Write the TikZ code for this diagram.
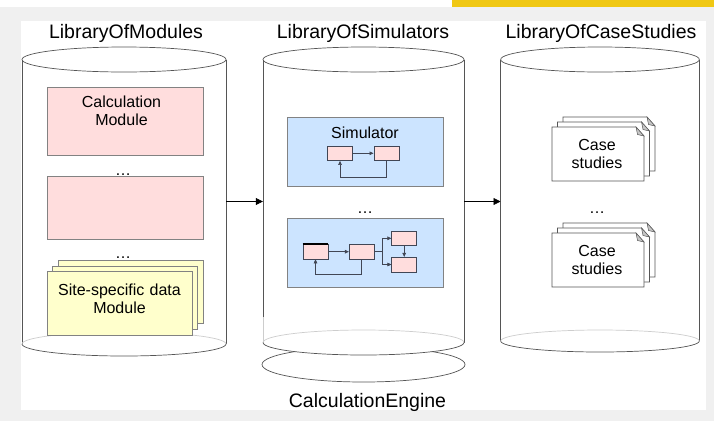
\documentclass[tikz,border=0pt]{standalone}
\usepackage{fontspec}
\setmainfont{Liberation Sans}
\usetikzlibrary{arrows.meta}
\definecolor{bggray}{RGB}{240,240,240}
\definecolor{topyellow}{RGB}{240,200,20}
\definecolor{pinkf}{RGB}{255,221,221}
\definecolor{bluef}{RGB}{204,228,255}
\definecolor{yellf}{RGB}{255,255,204}
\definecolor{edge}{RGB}{85,85,85}
\definecolor{lightedge}{RGB}{205,205,205}
\definecolor{boxedge}{RGB}{130,130,130}
\definecolor{smalledge}{RGB}{65,70,85}
\begin{document}
\begin{tikzpicture}[x=1pt,y=-1pt,
  title/.style={font=\fontsize{19.5}{23}\selectfont, anchor=base, inner sep=0pt},
  txt/.style={font=\fontsize{16}{18.8}\selectfont, anchor=base, inner sep=0pt, text width=150pt, align=center},
  cylbox/.style={minimum width=#1, minimum height=284pt, inner sep=0pt, draw=none},
  cyledge/.style={draw=edge, line width=0.7pt},
  modbox/.style={draw=boxedge, fill=pinkf, line width=0.6pt, minimum width=156pt, inner sep=0pt},
  sitebox/.style={draw=boxedge, fill=yellf, line width=0.6pt, minimum width=145pt, minimum height=63.5pt, inner sep=0pt},
  simbox/.style={draw=boxedge, fill=bluef, line width=0.6pt, minimum width=156pt, minimum height=69pt, inner sep=0pt},
  sbox/.style={draw=smalledge, fill=pinkf, line width=0.6pt, minimum width=25pt, minimum height=14.6pt, inner sep=0pt},
  bigarr/.style={draw=black, line width=0.6pt, -{Triangle[length=7pt,width=7pt]}},
  sarr/.style={draw=smalledge, line width=0.6pt, -{Triangle[length=4pt,width=3.6pt]}},
  sline/.style={draw=smalledge, line width=0.6pt},
  docpage/.pic={
    \draw[draw=edge, fill=white, line width=0.6pt] (0,0) -- (84,0) -- (92,9) -- (92,54) -- (0,54) -- cycle;
    \draw[draw=edge, fill=gray!45, line width=0.5pt] (84,0) -- (85.5,7.5) -- (92,9) -- cycle;
  }
]
\useasboundingbox (0,0) rectangle (714,421);
% background
\fill[white] (0,0) rectangle (714,421);
\fill[bggray] (0,7) rectangle (714,421);
\fill[white] (21,21) rectangle (706,410);
\path[fill=topyellow] (452,0) rectangle (714,7);

% titles
\node[title] (tlom) at (126,38) {LibraryOfModules};
\node[title] (tlos) at (363,38) {LibraryOfSimulators};
\node[title] (tloc) at (601,38) {LibraryOfCaseStudies};
\node[title] (tce) at (367.5,407) {CalculationEngine};

% ---------- cylinder 1 ----------
\fill[white] (22,59.5) -- (22,344) arc[start angle=180, end angle=0, x radius=102, y radius=12] -- (226,59.5) -- cycle;
\draw[cyledge] (22,59.5) -- (22,344);
\draw[cyledge] (226,59.5) -- (226,344);
\draw[draw=lightedge, line width=0.7pt] (22,344) arc[start angle=180, end angle=360, x radius=102, y radius=12];
\draw[cyledge] (22,344) arc[start angle=180, end angle=0, x radius=102, y radius=12];
\draw[cyledge] (124,59.5) ellipse [x radius=102, y radius=12.5];
\node[cylbox=204pt] (lom) at (124,201.5) {};

% ---------- cylinder 2 (with engine disc) ----------
\draw[cyledge] (363.5,364.5) ellipse [x radius=101.5, y radius=17.5];
\fill[white] (263,59.5) -- (263,342.5) arc[start angle=180, end angle=0, x radius=100.5, y radius=12.5] -- (464,59.5) -- cycle;
\draw[cyledge] (263,59.5) -- (263,317);
\draw[draw=lightedge, line width=0.7pt] (263,317) -- (263,342.5);
\draw[cyledge] (464,59.5) -- (464,342.5);
\draw[draw=lightedge, line width=0.7pt] (263,342.5) arc[start angle=180, end angle=360, x radius=100.5, y radius=12.5];
\draw[cyledge] (263,342.5) arc[start angle=180, end angle=0, x radius=100.5, y radius=12.5];
\draw[cyledge] (363.5,59.5) ellipse [x radius=100.5, y radius=12.5];
\node[cylbox=201pt] (los) at (363.5,201.5) {};

% ---------- cylinder 3 ----------
\fill[white] (500.7,59.5) -- (500.7,341) arc[start angle=180, end angle=0, x radius=99.3, y radius=11] -- (699.3,59.5) -- cycle;
\draw[cyledge] (500.7,59.5) -- (500.7,341);
\draw[cyledge] (699.3,59.5) -- (699.3,341);
\draw[draw=lightedge, line width=0.7pt] (500.7,341) arc[start angle=180, end angle=360, x radius=99.3, y radius=11];
\draw[cyledge] (500.7,341) arc[start angle=180, end angle=0, x radius=99.3, y radius=11];
\draw[cyledge] (600,59.5) ellipse [x radius=99.3, y radius=12.5];
\node[cylbox=198.6pt] (loc) at (600,201.5) {};

% arrows between libraries
\draw[bigarr] (lom.east) -- (los.west);
\draw[bigarr] (los.east) -- (loc.west);

% ---------- modules ----------
\node[modbox, minimum height=68.3pt] (calc) at (125,121) {};
\node[txt] (calctxt) at (121.5,107) {Calculation\\Module};
\node[txt] (dots1) at (123,175) {\ldots};
\node[modbox, minimum height=63.3pt] (mod2) at (125,207.6) {};
\node[txt] (dots2) at (123,258.5) {\ldots};
\node[sitebox] (site3) at (130.5,292) {};
\node[sitebox] (site2) at (125,298) {};
\node[sitebox] (site1) at (119.5,303.5) {};
\node[txt] (sitetxt) at (119.5,295) {Site-specific data\\Module};

% ---------- simulators ----------
\node[simbox] (sim1) at (365,151.5) {};
\node[txt] (simtxt) at (365,138) {Simulator};
\node[sbox] (a) at (340,153.3) {};
\node[sbox] (b) at (386.3,153.3) {};
\draw[sarr] (a) -- (b);
\draw[sarr] (b.south) -- ++(0,16) -| (a.south);

\node[txt] (dots3) at (365,213) {\ldots};

\node[simbox] (sim2) at (365,252.5) {};
\node[sbox] (c) at (315.5,251.7) {};
\draw[line width=1.3pt, black] (c.north west) -- (c.north east);
\node[sbox] (d) at (361.7,251.7) {};
\node[sbox] (e) at (404.2,238.3) {};
\node[sbox] (f) at (404.2,264.5) {};
\coordinate (br) at (382.3,251.7);
\draw[sarr] (c) -- (d);
\draw[sline] (d.east) -- (br);
\draw[sarr] (br) |- (e.west);
\draw[sarr] (br) |- (f.west);
\draw[sarr] (e.south) -- (f.north);
\draw[sarr] (d.south) -- ++(0,15) -| (c.south);

% ---------- case studies ----------
\pic at (563,117) {docpage};
\pic at (557.5,122) {docpage};
\pic at (552,127) {docpage};
\node[txt] (cs1) at (597,150) {Case\\studies};

\node[txt] (dots4) at (597,213) {\ldots};

\pic at (563,223) {docpage};
\pic at (557.5,228) {docpage};
\pic at (552,233) {docpage};
\node[txt] (cs2) at (597,256) {Case\\studies};
\end{tikzpicture}
\end{document}
